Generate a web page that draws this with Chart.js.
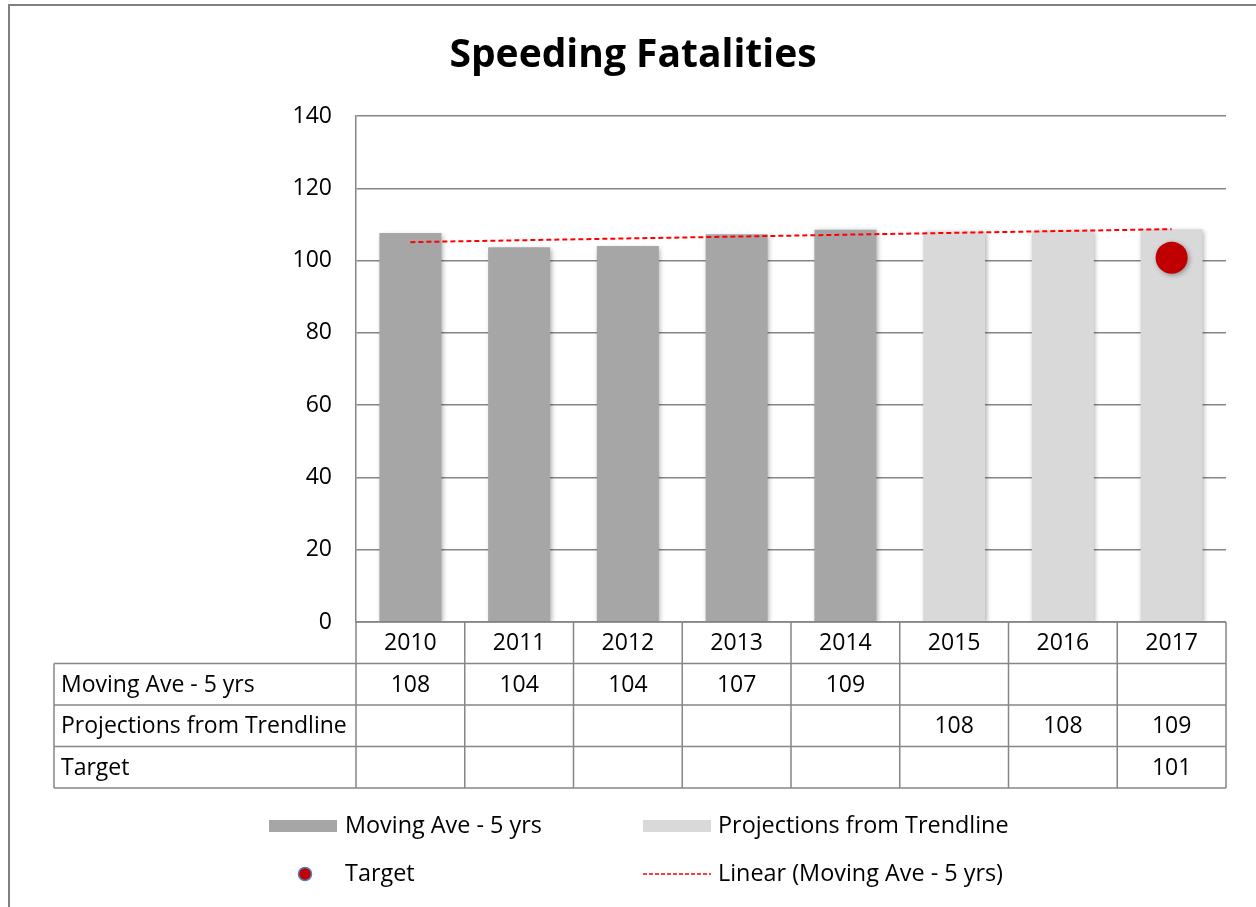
<!DOCTYPE html>
<html>
<head>
<meta charset="utf-8">
<script src="https://cdn.jsdelivr.net/npm/chart.js@4.4.1/dist/chart.umd.min.js"></script>
<style>
  html, body { margin: 0; padding: 0; background: #fff; }
  #wrap { width: 1256px; height: 907px; position: relative; }
</style>
</head>
<body>
<div id="wrap"><canvas id="c" width="1256" height="907"></canvas></div>
<script>
// ---- data ----
const chartTitle = 'Speeding Fatalities';
const categories = ['2010', '2011', '2012', '2013', '2014', '2015', '2016', '2017'];
const movingAve = [107.6, 103.7, 104.0, 107.3, 108.5, null, null, null];
const projections = [null, null, null, null, null, 108.0, 108.2, 108.7];
const target = [null, null, null, null, null, null, null, 100.8];
const trendLine = [105.1, null, null, null, null, null, null, 108.7];
const yTicks = [0, 20, 40, 60, 80, 100, 120, 140];
const rowLabels = ['Moving Ave - 5 yrs', 'Projections from Trendline', 'Target'];
const tableMoving = ['108', '104', '104', '107', '109', '', '', ''];
const tableProjections = ['', '', '', '', '', '108', '108', '109'];
const tableTarget = ['', '', '', '', '', '', '', '101'];
const legendLabels = ['Moving Ave - 5 yrs', 'Projections from Trendline', 'Target', 'Linear (Moving Ave - 5 yrs)'];

const FONT = '"Open Sans", "Liberation Sans", sans-serif';
const LINE = '#868686';

const shadowPlugin = {
  id: 'shadow',
  beforeDatasetDraw(chart, args) {
    const ctx = chart.ctx;
    ctx.save();
    if (args.index <= 2) {
      ctx.shadowColor = 'rgba(0,0,0,0.35)';
      ctx.shadowBlur = 5;
      ctx.shadowOffsetX = 1.5;
      ctx.shadowOffsetY = 1.5;
    }
  },
  afterDatasetDraw(chart) { chart.ctx.restore(); }
};

const framePlugin = {
  id: 'frame',
  beforeDraw(chart) {
    const ctx = chart.ctx;
    ctx.save();
    ctx.fillStyle = '#fff';
    ctx.fillRect(0, 0, chart.width, chart.height);
    ctx.strokeStyle = '#808080';
    ctx.lineWidth = 2;
    ctx.beginPath();
    ctx.moveTo(9, chart.height);
    ctx.lineTo(9, 5);
    ctx.lineTo(chart.width, 5);
    ctx.stroke();
    // title
    ctx.fillStyle = '#000';
    ctx.font = 'bold 39px ' + FONT;
    ctx.textAlign = 'center';
    ctx.textBaseline = 'middle';
    ctx.fillText(chartTitle, 633, 56);
    ctx.restore();
  },
  afterDraw(chart) {
    const ctx = chart.ctx;
    const xs = chart.scales.x;
    const area = chart.chartArea;
    const n = categories.length;
    const w = (area.right - area.left) / n;
    const top = area.bottom;
    const rowH = 41.5;
    const tableLeft = 54;
    const bottom = top + rowH * 4;
    ctx.save();
    ctx.strokeStyle = LINE;
    ctx.lineWidth = 1.5;
    ctx.beginPath();
    ctx.moveTo(area.left, top); ctx.lineTo(area.right, top);
    for (let r = 1; r <= 4; r++) {
      const y = top + rowH * r;
      ctx.moveTo(tableLeft, y); ctx.lineTo(area.right, y);
    }
    ctx.moveTo(tableLeft, top + rowH); ctx.lineTo(tableLeft, bottom);
    for (let i = 0; i <= n; i++) {
      const x = area.left + i * w;
      ctx.moveTo(x, top); ctx.lineTo(x, bottom);
    }
    ctx.stroke();

    ctx.fillStyle = '#000';
    ctx.font = '23px ' + FONT;
    ctx.textBaseline = 'middle';
    ctx.textAlign = 'center';
    categories.forEach((c, i) => {
      ctx.fillText(c, xs.getPixelForValue(i), top + rowH / 2 + 1);
    });
    const rows = [tableMoving, tableProjections, tableTarget];
    rows.forEach((row, r) => {
      const y = top + rowH * (r + 1) + rowH / 2 + 1;
      ctx.textAlign = 'center';
      row.forEach((v, i) => { if (v) ctx.fillText(v, xs.getPixelForValue(i), y); });
    });
    ctx.font = '23px ' + FONT;
    ctx.textAlign = 'left';
    rowLabels.forEach((lab, r) => {
      ctx.fillText(lab, 61, top + rowH * (r + 1) + rowH / 2 + 1);
    });

    // legend
    const ly1 = 826, ly2 = 874;
    ctx.fillStyle = '#a6a6a6';
    ctx.fillRect(269, ly1 - 6, 68, 12);
    ctx.fillStyle = '#d9d9d9';
    ctx.fillRect(643, ly1 - 6, 68, 12);
    ctx.beginPath();
    ctx.arc(305, ly2, 6.5, 0, Math.PI * 2);
    ctx.fillStyle = '#c00000';
    ctx.fill();
    ctx.strokeStyle = '#4f81bd';
    ctx.lineWidth = 1.5;
    ctx.stroke();
    ctx.beginPath();
    ctx.setLineDash([4, 2]);
    ctx.strokeStyle = '#ff0000';
    ctx.lineWidth = 1.5;
    ctx.moveTo(643, ly2); ctx.lineTo(711, ly2);
    ctx.stroke();
    ctx.setLineDash([]);
    ctx.fillStyle = '#000';
    ctx.font = '23.4px ' + FONT;
    ctx.textAlign = 'left';
    ctx.fillText(legendLabels[0], 345, ly1);
    ctx.fillText(legendLabels[1], 718, ly1);
    ctx.fillText(legendLabels[2], 345, ly2);
    ctx.fillText(legendLabels[3], 718, ly2);
    ctx.restore();
  }
};

new Chart(document.getElementById('c'), {
  data: {
    labels: categories,
    datasets: [
      { type: 'line', label: legendLabels[2], data: target, showLine: false,
        pointRadius: 16, pointHoverRadius: 16, pointBackgroundColor: '#c00000',
        pointBorderColor: '#c00000', pointBorderWidth: 0, order: 0 },
      { type: 'bar', label: legendLabels[0], data: movingAve, backgroundColor: '#a6a6a6',
        grouped: false, barPercentage: 0.57, categoryPercentage: 1, order: 3 },
      { type: 'bar', label: legendLabels[1], data: projections, backgroundColor: '#d9d9d9',
        grouped: false, barPercentage: 0.57, categoryPercentage: 1, order: 3 },
      { type: 'line', label: legendLabels[3], data: trendLine, spanGaps: true,
        borderColor: '#ff0000', borderWidth: 2, borderDash: [5, 3], pointRadius: 0,
        fill: false, order: 1 }
    ]
  },
  options: {
    responsive: false,
    animation: false,
    events: [],
    layout: { padding: { left: 0, right: 30, top: 116, bottom: 285 } },
    plugins: {
      legend: { display: false },
      tooltip: { enabled: false },
      title: { display: false }
    },
    scales: {
      x: { display: false, offset: true },
      y: {
        min: 0, max: 140,
        afterBuildTicks(scale) { scale.ticks = yTicks.map(v => ({ value: v })); },
        afterFit(scale) { scale.width = 356; },
        ticks: { color: '#000', font: { family: FONT, size: 23 }, padding: 24 },
        grid: { color: LINE, lineWidth: 1.5, drawTicks: false },
        border: { display: true, color: LINE, width: 1.5 }
      }
    }
  },
  plugins: [framePlugin, shadowPlugin]
});
</script>
</body>
</html>
